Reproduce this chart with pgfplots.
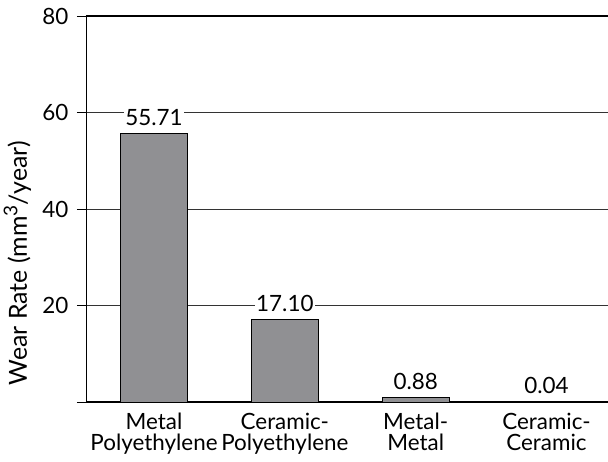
\documentclass[border=0pt]{standalone}
\usepackage{fontspec}
\setmainfont{Lato}
\usepackage{pgfplots}
\pgfplotsset{compat=1.18}
\usetikzlibrary{calc}
\definecolor{barfill}{RGB}{144,144,147}
\begin{document}
\fontsize{22.5}{21}\selectfont
\begin{tikzpicture}
\begin{axis}[
  scale only axis, width=522bp, height=386bp,
  xmin=-0.52, xmax=3.47, ymin=0, ymax=80,
  axis lines*=left,
  x axis line style={line width=1.8bp},
  y axis line style={line width=0.8bp},
  ytick={0,20,40,60,80}, yticklabels={,20,40,60,80},
  tick align=outside, major tick length=9bp,
  ytick style={black, line width=0.8bp},
  xtick={0,1,2,3},
  xticklabels={Metal\\Polyethylene, Ceramic-\\Polyethylene, Metal-\\Metal, Ceramic-\\Ceramic},
  xticklabel style={align=center, yshift=0bp, inner sep=2bp},
  xtick style={draw=none},
  ymajorgrids, grid style={black!80, line width=0.8bp},
  /pgf/number format/assume math mode=true,
  ylabel={\fontsize{25}{25}\selectfont Wear Rate (mm\raisebox{0.38em}{\fontsize{19}{19}\selectfont 3}/year)},
  ylabel style={at={(ticklabel cs:0.36)}, yshift=-4bp},
  yticklabel style={xshift=-1bp},
  ybar, bar width=67bp,
  nodes near coords, point meta=explicit symbolic,
  every node near coord/.append style={fill=white, inner sep=1.5bp, yshift=6bp},
  clip=false,
]
\addplot[fill=barfill, draw=black, line width=0.8bp] coordinates {(0,55.71)[55.71] (1,17.10)[17.10] (2,0.88)[0.88] (3,0.04)[0.04]};
\draw[line width=1.6bp] (axis cs:-0.52,80) -- (axis cs:3.47,80);
\end{axis}
\pgfresetboundingbox
\path ($(current axis.south west)+(-86bp,-60bp)$) rectangle ($(current axis.north east)+(0bp,16bp)$);
\end{tikzpicture}
\end{document}
